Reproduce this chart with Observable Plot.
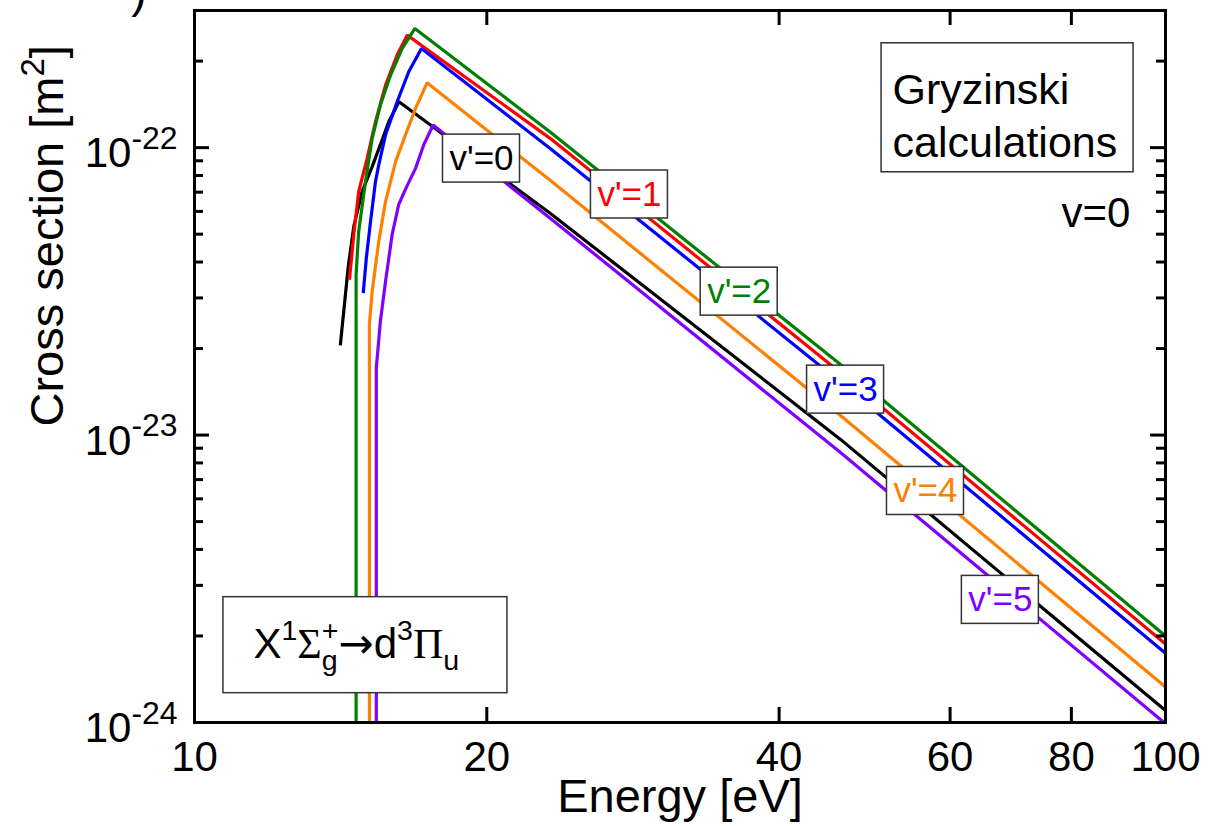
<!DOCTYPE html>
<html>
<head>
<meta charset="utf-8">
<script src="https://cdn.jsdelivr.net/npm/d3@7"></script>
<script src="https://cdn.jsdelivr.net/npm/@observablehq/plot@0.6"></script>
<style>
  body { margin: 0; background: #fff; }
  #chart svg { display: block; }
</style>
</head>
<body>
<div id="chart"></div>
<script>
// Electron-impact excitation X¹Σg⁺(v=0) → d³Πu(v'), Gryzinski cross sections.
const levels = ["v'=0", "v'=1", "v'=2", "v'=3", "v'=4", "v'=5"];
const levelColors = ["#000000", "#ff0000", "#008000", "#0000ff", "#ff8000", "#8000ff"];

// energy [eV] / cross section [m²] per final level
const energy0 = [14.13, 14.40, 14.59, 14.88, 15.24, 15.54, 15.85, 16.24, 23.26, 46.27, 100];
const sigma0  = [2.05e-23, 3.86e-23, 5.32e-23, 7.03e-23, 8.59e-23, 1.024e-22, 1.231e-22, 1.444e-22, 5.90e-23, 9.66e-24, 1.10e-24];

const energy1 = [14.44, 14.60, 14.76, 15.06, 15.36, 15.73, 16.17, 16.56, 23.26, 46.27, 100];
const sigma1  = [3.47e-23, 5.11e-23, 7.03e-23, 9.18e-23, 1.231e-22, 1.651e-22, 2.099e-22, 2.462e-22, 1.075e-22, 1.647e-23, 1.875e-24];

const energy2 = [14.67, 14.67, 14.76, 15.00, 15.24, 15.54, 15.92, 16.36, 16.86, 23.26, 46.27, 100];
const sigma2  = [1e-25, 3.62e-23, 5.11e-23, 7.62e-23, 1.077e-22, 1.407e-22, 1.789e-22, 2.212e-22, 2.596e-22, 1.132e-22, 1.759e-23, 2.0e-24];

const energy3 = [14.92, 15.03, 15.18, 15.36, 15.48, 15.73, 16.17, 16.62, 17.13, 23.26, 46.27, 100];
const sigma3  = [3.12e-23, 4.13e-23, 5.53e-23, 7.62e-23, 8.71e-23, 1.107e-22, 1.444e-22, 1.836e-22, 2.212e-22, 9.92e-23, 1.528e-23, 1.74e-24];

const energy4 = [15.14, 15.14, 15.24, 15.48, 15.73, 16.11, 16.49, 16.89, 17.36, 23.26, 46.27, 100];
const sigma4  = [1e-25, 2.43e-23, 3.16e-23, 4.72e-23, 6.49e-23, 8.94e-23, 1.107e-22, 1.369e-22, 1.681e-22, 7.68e-23, 1.17e-23, 1.33e-24];

const energy5 = [15.39, 15.39, 15.54, 15.73, 15.98, 16.23, 16.54, 16.89, 17.22, 17.61, 23.26, 46.27, 100];
const sigma5  = [1e-25, 1.713e-23, 2.49e-23, 3.42e-23, 4.99e-23, 6.34e-23, 7.32e-23, 8.47e-23, 1.022e-22, 1.199e-22, 5.67e-23, 8.69e-24, 0.99e-24];

// where each level's name sits along its curve
const labelEnergy = [19.75, 28.05, 36.39, 46.83, 56.6, 67.6];
const labelSigma  = [9.16e-23, 6.87e-23, 3.155e-23, 1.439e-23, 6.39e-24, 2.67e-24];

// axis ticks
const xTickLabels = [10, 20, 40, 60, 80, 100];
const xTickMarks = [20, 40, 60, 80];
const yDecades = [1e-24, 1e-23, 1e-22];
const yMajor = [1e-23, 1e-22];
const yMinor = [2e-24, 3e-24, 4e-24, 5e-24, 6e-24, 7e-24, 8e-24, 9e-24,
                2e-23, 3e-23, 4e-23, 5e-23, 6e-23, 7e-23, 8e-23, 9e-23, 2e-22];

// annotations
const noteText = ["Gryzinski\ncalculations", "v=0"];
const noteEnergy = [52.35, 92.0];
const noteSigma = [1.919e-22, 5.92e-23];
const transitionText = "X^{1}Σ_{g}^{+}→d^{3}Π_{u}";
const transitionEnergy = 11.5;   // start of the term symbol
const transitionSigma = 1.873e-24;

const energies = [energy0, energy1, energy2, energy3, energy4, energy5];
const sigmas = [sigma0, sigma1, sigma2, sigma3, sigma4, sigma5];
const rows = levels.flatMap((level, i) =>
  energies[i].map((e, j) => ({level, energy: e, sigma: sigmas[i][j]})));
const labels = levels.map((level, i) => ({level, energy: labelEnergy[i], sigma: labelSigma[i]}));
const notes = noteText.map((t, i) => ({t, energy: noteEnergy[i], sigma: noteSigma[i]}));

const font = "'Liberation Sans', Arial, Helvetica, sans-serif";
const W = 1221, H = 826, mL = 194, mR = 56, mT = 10, mB = 104;
const innerW = W - mL - mR, innerH = H - mT - mB;
const major = 15, minor = 9;

const plot = Plot.plot({
  width: W,
  height: H,
  marginLeft: mL,
  marginRight: mR,
  marginTop: mT,
  marginBottom: mB,
  style: {fontFamily: font, background: "white", color: "black"},
  x: {type: "log", domain: [10, 100]},
  y: {type: "log", domain: [1e-24, 3e-22]},
  color: {domain: levels, range: levelColors},
  marks: [
    Plot.line(rows, {
      x: "energy", y: "sigma", z: "level", stroke: "level",
      strokeWidth: 3.2, strokeLinejoin: "miter", strokeLinecap: "butt", clip: true
    }),
    Plot.frame({strokeWidth: 3}),
    // inward tick marks on all four sides
    Plot.ruleX(xTickMarks, {insetTop: innerH - major, strokeWidth: 3}),
    Plot.ruleX(xTickMarks, {insetBottom: innerH - major, strokeWidth: 3}),
    Plot.ruleY(yMajor, {insetRight: innerW - major, strokeWidth: 3}),
    Plot.ruleY(yMinor, {insetRight: innerW - minor, strokeWidth: 3}),
    Plot.ruleY(yMajor, {insetLeft: innerW - major, strokeWidth: 3}),
    Plot.ruleY(yMinor, {insetLeft: innerW - minor, strokeWidth: 3}),
    // tick labels
    Plot.axisX({anchor: "bottom", ticks: xTickLabels, tickSize: 0, tickPadding: 19,
      fontSize: 42, tickFormat: d => String(d), label: null}),
    Plot.axisY({anchor: "left", ticks: yDecades, tickSize: 0, tickPadding: 17, dy: 6,
      fontSize: 42, tickFormat: d => `10^{${Math.round(Math.log10(d))}}`, label: null}),
    // axis titles
    Plot.text(["Energy [eV]"], {frameAnchor: "bottom", dy: 89, fontSize: 47}),
    Plot.text(["Cross section [m^{2}]"], {frameAnchor: "left", dx: -147, dy: 60,
      rotate: -90, fontSize: 47}),
    Plot.text([")"], {frameAnchor: "top-left", dx: -48, dy: -36, textAnchor: "end", fontSize: 46}),
    // level names on the curves
    Plot.text(labels, {x: "energy", y: "sigma", text: "level", fill: "level", fontSize: 35}),
    // notes
    Plot.text(notes.slice(0, 1), {x: "energy", y: "sigma", text: "t", textAnchor: "start",
      lineAnchor: "top", lineHeight: 1.233, fontSize: 43}),
    Plot.text(notes.slice(1), {x: "energy", y: "sigma", text: "t", textAnchor: "end",
      fontSize: 42}),
    Plot.text([transitionText], {x: () => transitionEnergy, y: () => transitionSigma,
      textAnchor: "start", fontSize: 42})
  ]
});

document.getElementById("chart").append(plot);
const svg = d3.select(plot);
const sx = plot.scale("x"), sy = plot.scale("y");

// Markup with ^{..} and _{..} into tspans; a superscript right after a
// subscript is stacked above it.
function rich(node, markup, {sup = 0.72, rise = 0.42, sub = 0.72, drop = 0.3} = {}) {
  const t = d3.select(node);
  const base = parseFloat(getComputedStyle(node).fontSize);
  t.text(null);
  const tokens = markup.match(/\^\{[^}]*\}|_\{[^}]*\}|[^^_]+/g);
  let cur = 0, prevKind = null, prevLen = 0, pendingDx = 0;
  for (const tok of tokens) {
    let kind = "base", s = tok;
    if (tok.startsWith("^{")) { kind = "sup"; s = tok.slice(2, -1); }
    else if (tok.startsWith("_{")) { kind = "sub"; s = tok.slice(2, -1); }
    const size = kind === "sup" ? base * sup : kind === "sub" ? base * sub : base;
    const target = kind === "sup" ? -base * rise : kind === "sub" ? base * drop : 0;
    const runs = s.match(/[ΣΠ]+|→|[^ΣΠ→]+/g) || [];
    let len = 0;
    runs.forEach((run, k) => {
      const span = t.append("tspan").text(run).attr("font-size", size);
      if (/[ΣΠ]/.test(run)) span.attr("font-family", "'Liberation Serif', 'Times New Roman', serif");
      if (run === "→") span.attr("font-family", "'DejaVu Sans', sans-serif");
      if (k === 0) {
        span.attr("dy", target - cur);
        cur = target;
        let dx = pendingDx;
        if (kind === "sup" && prevKind === "sub") dx = -prevLen;
        if (dx) span.attr("dx", dx);
      }
      len += span.node().getComputedTextLength();
    });
    pendingDx = (kind === "sup" && prevKind === "sub") ? Math.max(0, prevLen - len) : 0;
    prevKind = kind; prevLen = len;
  }
}

const allText = () => svg.selectAll("text").nodes();
const findText = pred => allText().filter(n => pred(n.textContent));

// decade labels, y title and transition name carry sub/superscripts
for (const n of findText(s => /[\^_]\{/.test(s))) {
  const s = n.textContent;
  if (s.startsWith("10^")) rich(n, s, {sup: 0.76, rise: 0.43});
  else if (s.startsWith("Cross")) rich(n, s, {sup: 0.7, rise: 0.4});
  else rich(n, s, {sup: 0.68, rise: 0.42, sub: 0.68, drop: 0.3});
}

// white framed boxes placed beneath a text mark's group
function boxes(groupNode, items) {
  const layer = svg.insert("g", () => groupNode);
  for (const b of items) {
    layer.append("rect")
      .attr("x", b.cx - b.w / 2).attr("y", b.cy - b.h / 2)
      .attr("width", b.w).attr("height", b.h)
      .attr("fill", "white").attr("stroke", "#333").attr("stroke-width", 1.5);
  }
}
const levelGroup = findText(s => s === levels[0])[0].parentNode;
boxes(levelGroup, labels.map(d => ({cx: sx.apply(d.energy), cy: sy.apply(d.sigma), w: 77, h: 48})));
const noteGroup = findText(s => s.startsWith("Gryzinski"))[0].parentNode;
boxes(noteGroup, notes.slice(0, 1).map(d => ({
  cx: sx.apply(d.energy) - 11 + 126, cy: sy.apply(d.sigma) - 23 + 64.5, w: 252, h: 129})));
const transitionGroup = findText(s => s.includes("Σ"))[0].parentNode;
boxes(transitionGroup, [{cx: sx.apply(transitionEnergy) + 112, cy: sy.apply(transitionSigma) + 1, w: 284, h: 96}]);
</script>
</body>
</html>
